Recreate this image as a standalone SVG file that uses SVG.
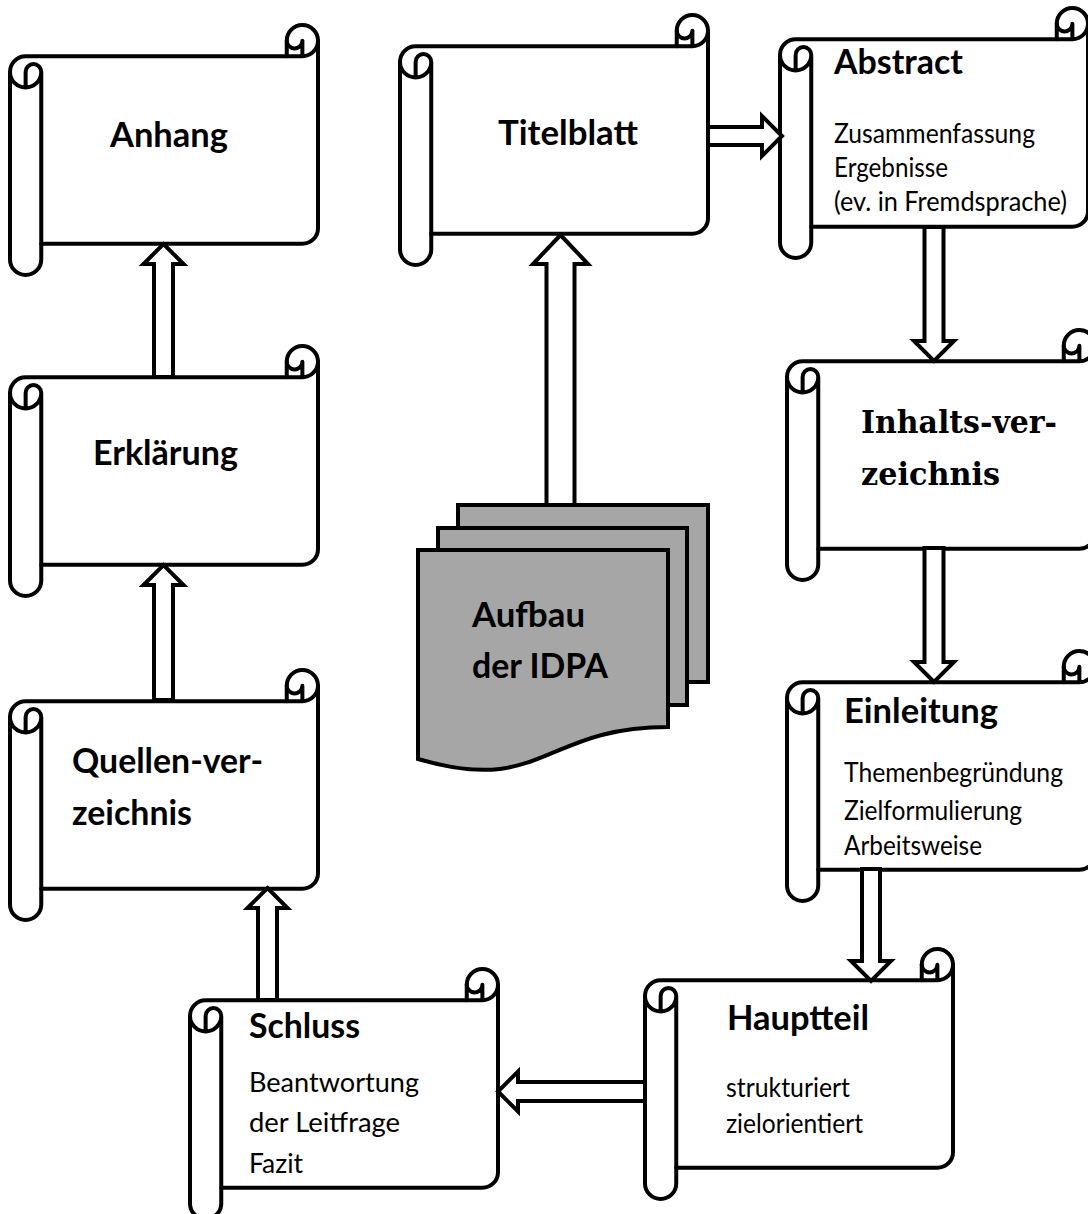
<svg xmlns="http://www.w3.org/2000/svg" xmlns:xlink="http://www.w3.org/1999/xlink" width="1088" height="1214" viewBox="0 0 1088 1214">
<style>
.s{fill:#fff;stroke:#000;stroke-width:4;stroke-linejoin:round}
.d{fill:none;stroke:#000;stroke-width:4;stroke-linejoin:round;stroke-linecap:round}
.t{font-family:Lato,"Open Sans",sans-serif;font-weight:bold;font-size:34px;fill:#000}
.b{font-family:Lato,"Open Sans",sans-serif;font-size:26px;fill:#000}
.sr{font-family:"DejaVu Serif","Liberation Serif",serif;font-weight:bold;font-size:31px;fill:#000}
.ar{fill:#fff;stroke:#000;stroke-width:4;stroke-linejoin:miter}
.doc{fill:#a6a6a6;stroke:#000;stroke-width:4;stroke-linejoin:miter}
</style>
<defs>
<g id="scroll">
<path class="s" d="M0,46.875 A15.625,15.625 0 0 1 15.625,31.25 L276.75,31.25 L276.75,15.625 A15.625,15.625 0 0 1 308,15.625 L308,203.125 A15.625,15.625 0 0 1 292.375,218.75 L31.25,218.75 L31.25,234.375 A15.625,15.625 0 0 1 0,234.375 Z"/>
<path class="d" d="M276.75,31.25 L292.375,31.25 A15.625,15.625 0 0 0 308,15.625 M292.375,31.25 L292.375,15.625 A7.8125,7.8125 0 0 1 276.75,15.625 M15.625,62.5 L15.625,46.875 A7.8125,7.8125 0 0 1 31.25,46.875 A15.625,15.625 0 0 1 0,46.875 M31.25,46.875 L31.25,218.75"/>
</g>
</defs>

<g id="node-anhang">
<use xlink:href="#scroll" href="#scroll" transform="translate(10,25)"/>
<text class="t" x="110" y="147" textLength="118" lengthAdjust="spacingAndGlyphs">Anhang</text>
</g>

<g id="node-titelblatt">
<use xlink:href="#scroll" href="#scroll" transform="translate(400,15)"/>
<text class="t" x="498" y="145" textLength="140" lengthAdjust="spacingAndGlyphs">Titelblatt</text>
</g>

<g id="node-abstract">
<use xlink:href="#scroll" href="#scroll" transform="translate(780,8)"/>
<text class="t" x="834" y="74" textLength="129" lengthAdjust="spacingAndGlyphs">Abstract</text>
<text class="b" x="834" y="143" textLength="201" lengthAdjust="spacingAndGlyphs">Zusammenfassung</text>
<text class="b" x="834" y="177" textLength="114" lengthAdjust="spacingAndGlyphs">Ergebnisse</text>
<text class="b" x="834" y="211" textLength="233" lengthAdjust="spacingAndGlyphs">(ev. in Fremdsprache)</text>
</g>

<g id="node-erklaerung">
<use xlink:href="#scroll" href="#scroll" transform="translate(10,346)"/>
<text class="t" x="93" y="465" textLength="145" lengthAdjust="spacingAndGlyphs">Erklärung</text>
</g>

<g id="node-quellen">
<use xlink:href="#scroll" href="#scroll" transform="translate(10,670)"/>
<text class="t" x="72" y="773" textLength="191" lengthAdjust="spacingAndGlyphs">Quellen-ver-</text>
<text class="t" x="72" y="825" textLength="120" lengthAdjust="spacingAndGlyphs">zeichnis</text>
</g>

<g id="node-inhalt">
<use xlink:href="#scroll" href="#scroll" transform="translate(787,330)"/>
<text class="sr" x="861" y="433" textLength="196" lengthAdjust="spacingAndGlyphs">Inhalts-ver-</text>
<text class="sr" x="861" y="485" textLength="139" lengthAdjust="spacingAndGlyphs">zeichnis</text>
</g>

<g id="node-einleitung">
<use xlink:href="#scroll" href="#scroll" transform="translate(787,651)"/>
<text class="t" x="844" y="723" textLength="154" lengthAdjust="spacingAndGlyphs">Einleitung</text>
<text class="b" x="844" y="782" textLength="219" lengthAdjust="spacingAndGlyphs">Themenbegründung</text>
<text class="b" x="844" y="820" textLength="178" lengthAdjust="spacingAndGlyphs">Zielformulierung</text>
<text class="b" x="844" y="855" textLength="138" lengthAdjust="spacingAndGlyphs">Arbeitsweise</text>
</g>

<g id="node-hauptteil">
<use xlink:href="#scroll" href="#scroll" transform="translate(645,949)"/>
<text class="t" x="727" y="1030" textLength="142" lengthAdjust="spacingAndGlyphs">Hauptteil</text>
<text class="b" x="726" y="1097" textLength="124" lengthAdjust="spacingAndGlyphs">strukturiert</text>
<text class="b" x="726" y="1133" textLength="137" lengthAdjust="spacingAndGlyphs">zielorientiert</text>
</g>

<g id="node-schluss">
<use xlink:href="#scroll" href="#scroll" transform="translate(190,969)"/>
<text class="t" x="249" y="1038" textLength="111" lengthAdjust="spacingAndGlyphs">Schluss</text>
<text class="b" x="249" y="1092" textLength="170" lengthAdjust="spacingAndGlyphs">Beantwortung</text>
<text class="b" x="249" y="1132" textLength="151" lengthAdjust="spacingAndGlyphs">der Leitfrage</text>
<text class="b" x="249" y="1173" textLength="54" lengthAdjust="spacingAndGlyphs">Fazit</text>
</g>

<g id="node-aufbau">
<rect class="doc" x="458" y="505" width="250" height="177"/>
<rect class="doc" x="438" y="528" width="249" height="177"/>
<path class="doc" d="M418,550 H668 V727 C543,727 543,796 418,759 Z"/>
<text class="t" x="472" y="627" textLength="113" lengthAdjust="spacingAndGlyphs">Aufbau</text>
<text class="t" x="472" y="678" textLength="136" lengthAdjust="spacingAndGlyphs">der IDPA</text>
</g>

<g id="connectors">
<polygon class="ar" points="154,377 154,264 143.5,264 163.5,244 183.5,264 173,264 173,377"/>
<polygon class="ar" points="154,700 154,585 143.5,585 163.5,565 183.5,585 173,585 173,700"/>
<polygon class="ar" points="258,1000 258,908 247.5,908 267.5,888 287.5,908 277,908 277,1000"/>
<polygon class="ar" points="645,1082 518,1082 518,1071.5 498,1091.5 518,1111.5 518,1101 645,1101"/>
<polygon class="ar" points="862,869 862,961 851,961 871,981 891,961 880,961 880,869"/>
<polygon class="ar" points="924.5,548 924.5,662 914,662 934,682 954,662 943.5,662 943.5,548"/>
<polygon class="ar" points="924.5,227 924.5,341 914,341 934,361 954,341 943.5,341 943.5,227"/>
<polygon class="ar" points="708,127 762,127 762,116 782,136 762,156 762,145 708,145"/>
<polygon class="ar" points="546.5,505 546.5,264 533,264 560.5,235 588,264 574.5,264 574.5,505"/>
</g>
</svg>
